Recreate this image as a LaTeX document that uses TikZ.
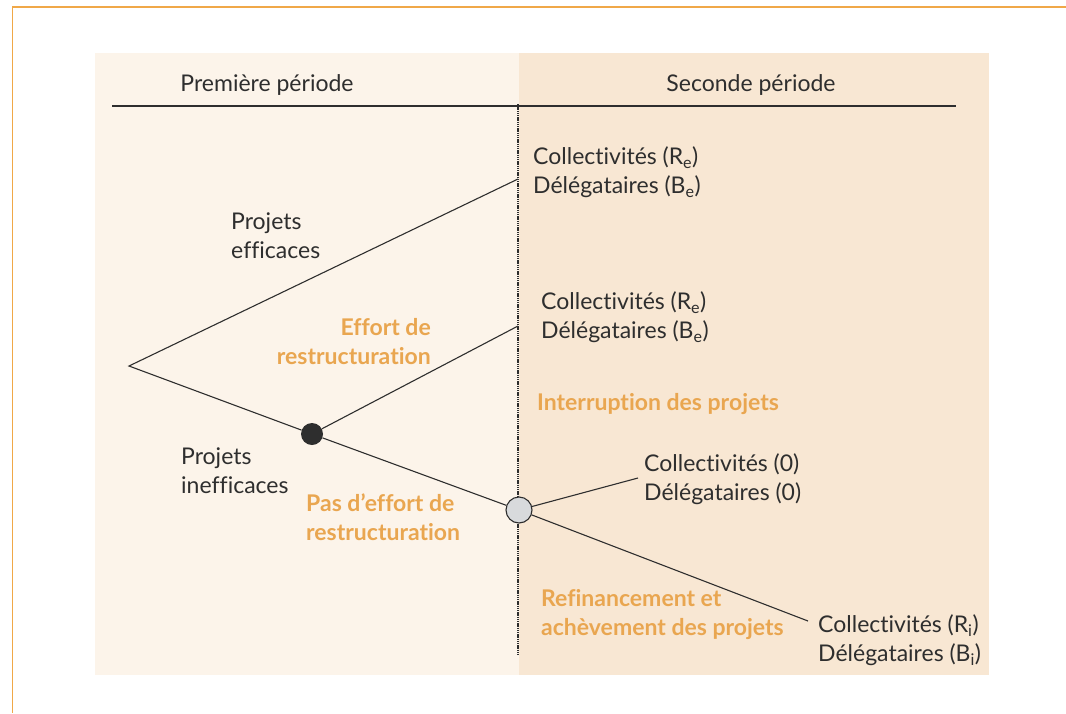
\documentclass[tikz,border=0pt]{standalone}
\usepackage{fontspec}
\setmainfont[Ligatures=NoCommon]{Lato}
\definecolor{frameor}{HTML}{F0A848}
\definecolor{leftbg}{HTML}{FCF4EA}
\definecolor{rightbg}{HTML}{F8E7D3}
\definecolor{ortext}{HTML}{E9A650}
\definecolor{ink}{HTML}{2E2E2E}
\definecolor{graynode}{HTML}{D8DADC}
\tikzset{
  txt/.style={inner sep=0pt, align=left, text=ink, font=\fontsize{23}{29}\selectfont},
  otxt/.style={inner sep=0pt, text=ortext, font=\fontsize{23}{29}\selectfont\bfseries},
  branch/.style={draw=ink, line width=1.1pt},
}
\begin{document}
\begin{tikzpicture}[x=1pt,y=-1pt]
\useasboundingbox (0,0) rectangle (1066,713);
\fill[white] (0,0) rectangle (1066,713);
% frame
\draw[frameor, line width=1.5pt] (1066,7) -- (12.5,7) -- (12.5,713);
% panels
\fill[leftbg] (95,53) rectangle (519,675);
\fill[rightbg] (519,53) rectangle (989,675);
% header
\node[txt, anchor=center] (p1) at (267,85) {Première période};
\node[txt, anchor=center] (p2) at (751,85) {Seconde période};
\draw[ink, line width=1.1pt] (112,106) -- (956,106);
% dotted divider
\draw[ink, line width=2.2pt, dash pattern=on 1.3pt off 0.9pt] (518,104) -- (518,655);
% points
\coordinate (root) at (129,366);
\coordinate (ue) at (518,179);
\coordinate (me) at (518,326);
\coordinate (ze) at (638,478);
\coordinate (ie) at (808,621);
\node[circle, fill=ink, minimum size=22pt, inner sep=0pt] (bn) at (312,434) {};
\node[circle, fill=graynode, draw=ink, line width=1.1pt, minimum size=26pt, inner sep=0pt] (gn) at (519,510) {};
% branches
\draw[branch] (ue) -- (root) -- (bn);
\draw[branch] (bn) -- (me);
\draw[branch] (bn) -- (gn);
\draw[branch] (gn) -- (ze);
\draw[branch] (gn) -- (ie);
% labels
\node[txt, anchor=west] (o1) at (533,172.5) {Collectivités (R\textsubscript{e})\\Délégataires (B\textsubscript{e})};
\node[txt, anchor=west] (pe) at (231,236) {Projets\\efficaces};
\node[txt, anchor=west] (o2) at (541,317.5) {Collectivités (R\textsubscript{e})\\Délégataires (B\textsubscript{e})};
\node[otxt, anchor=east, align=right] (er) at (431,341.5) {Effort de\\restructuration};
\node[otxt, anchor=west, align=left] (ip) at (537,404) {Interruption des projets};
\node[txt, anchor=west] (pi) at (181,471) {Projets\\inefficaces};
\node[txt, anchor=west] (o3) at (644,479) {Collectivités (0)\\Délégataires (0)};
\node[otxt, anchor=west, align=left] (pr) at (306,517) {Pas d’effort de\\restructuration};
\node[otxt, anchor=west, align=left] (ra) at (541,615) {Refinancement et\\achèvement des projets};
\node[txt, anchor=west] (o4) at (818,640.5) {Collectivités (R\textsubscript{i})\\Délégataires (B\textsubscript{i})};
\end{tikzpicture}
\end{document}
